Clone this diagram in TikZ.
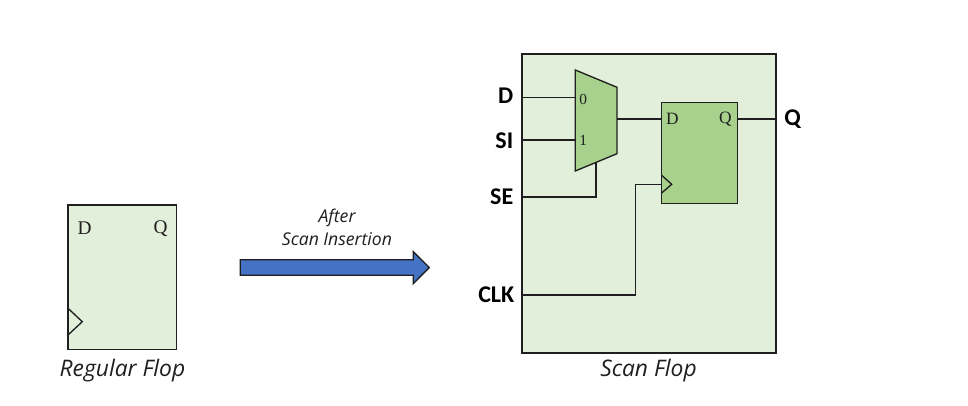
\documentclass[tikz,border=0pt]{standalone}
\usepackage{fontspec}
\setmainfont{Liberation Serif}
\newfontfamily\calibrifont{Carlito}
\newfontfamily\captionfont{Open Sans}
\usetikzlibrary{calc}
\definecolor{paleg}{HTML}{E2EFDA}
\definecolor{midg}{HTML}{A9D18E}
\definecolor{arrowb}{HTML}{4472C4}
\definecolor{ink}{HTML}{1F1F1F}
\tikzset{
  x=0.75pt,y=-0.75pt,
  wire/.style={draw=ink,line width=1pt,line join=miter},
  flop/.style={draw=ink,line width=1pt,inner sep=0pt,outer sep=0pt},
  portlbl/.style={font=\calibrifont\bfseries\fontsize{18}{21}\selectfont,text=black,inner sep=0pt,anchor=base east},
  pinlbl/.style={font=\fontsize{13}{14}\selectfont,text=ink,inner sep=0pt},
  muxlbl/.style={font=\fontsize{11.5}{12}\selectfont,text=ink,inner sep=0pt},
  caplbl/.style={font=\captionfont\itshape\fontsize{17.1}{20}\selectfont,text=ink,inner sep=0pt},
  afterlbl/.style={font=\captionfont\itshape\fontsize{13.2}{17}\selectfont,text=ink,inner sep=0pt,align=center},
}
\begin{document}
\begin{tikzpicture}
\useasboundingbox (0,0) rectangle (968,406);
% regular flop
\node[flop,fill=paleg,minimum width=81.5pt,minimum height=108.5pt] (reg) at (122.3,277.3) {};
\coordinate (regA) at (68,308.3);
\coordinate (regT) at (82.3,321.7);
\coordinate (regB) at (68,335);
\draw[wire] (regA) -- (regT) -- (regB);
\node[pinlbl,font=\fontsize{14.5}{16}\selectfont] (regD) at (84.5,228.5) {D};
\node[pinlbl,font=\fontsize{14.5}{16}\selectfont] (regQ) at (160.5,229) {Q};
\node[caplbl] (regcap) at (122.5,370.5) {Regular Flop};
% arrow
\node[afterlbl] (after) at (337,227.5) {After\\Scan Insertion};
\coordinate (a1) at (240.3,259.7);
\coordinate (a2) at (413.3,259.7);
\coordinate (a3) at (413.3,251.7);
\coordinate (a4) at (429.3,267.5);
\coordinate (a5) at (413.3,283.7);
\coordinate (a6) at (413.3,275.3);
\coordinate (a7) at (240.3,275.3);
\draw[wire,fill=arrowb] (a1) -- (a2) -- (a3) -- (a4) -- (a5) -- (a6) -- (a7) -- cycle;
% scan flop
\node[draw=ink,line width=1.5pt,fill=paleg,inner sep=0pt,outer sep=0pt,minimum width=190pt,minimum height=224.5pt] (scan) at (649,203.7) {};
\coordinate (m1) at (575.3,70);
\coordinate (m2) at (617,87.3);
\coordinate (m3) at (617,153.7);
\coordinate (m4) at (575.3,171);
\draw[wire,fill=midg] (m1) -- (m2) -- (m3) -- (m4) -- cycle;
\node[flop,fill=midg,minimum width=57pt,minimum height=76pt] (ff) at (699.3,153) {};
\coordinate (ffA) at (661.3,175);
\coordinate (ffT) at (671.7,184.3);
\coordinate (ffB) at (661.3,193.3);
\draw[wire] (ffA) -- (ffT) -- (ffB);
\node[muxlbl] (m0) at (583.3,99) {0};
\node[muxlbl] (m1l) at (583.3,140.5) {1};
\node[pinlbl] (ffD) at (672.5,119) {D};
\node[pinlbl] (ffQ) at (725.5,119.5) {Q};
% ports
\coordinate (pD) at (522.3,97.3);
\coordinate (pSI) at (522.3,140);
\coordinate (pSE) at (522.3,197);
\coordinate (pCLK) at (522.3,295);
\coordinate (pQ) at (775.7,119);
\coordinate (muxD) at (575.3,97.3);
\coordinate (muxSI) at (575.3,140);
\coordinate (muxSel) at (596,162.3);
\coordinate (muxOut) at (617,119);
\coordinate (ffDin) at (661.3,119);
\coordinate (ffQout) at (737.3,119);
\coordinate (ffClk) at (661.3,184.3);
\draw[wire] (pD) -- (muxD);
\draw[wire] (pSI) -- (muxSI);
\draw[wire] (pSE) -| (muxSel);
\draw[wire] (muxOut) -- (ffDin);
\draw[wire] (ffQout) -- (pQ);
\draw[wire] (pCLK) -| (635.3,184.3) -- (ffClk);
\node[portlbl] (lD) at (513.5,104) {D};
\node[portlbl] (lSI) at (513.5,149) {SI};
\node[portlbl] (lSE) at (513.5,204.5) {SE};
\node[portlbl] (lCLK) at (514.5,302.5) {CLK};
\node[portlbl,anchor=base west] (lQ) at (784,126) {Q};
\node[caplbl] (scancap) at (648.5,370.5) {Scan Flop};
\end{tikzpicture}
\end{document}
